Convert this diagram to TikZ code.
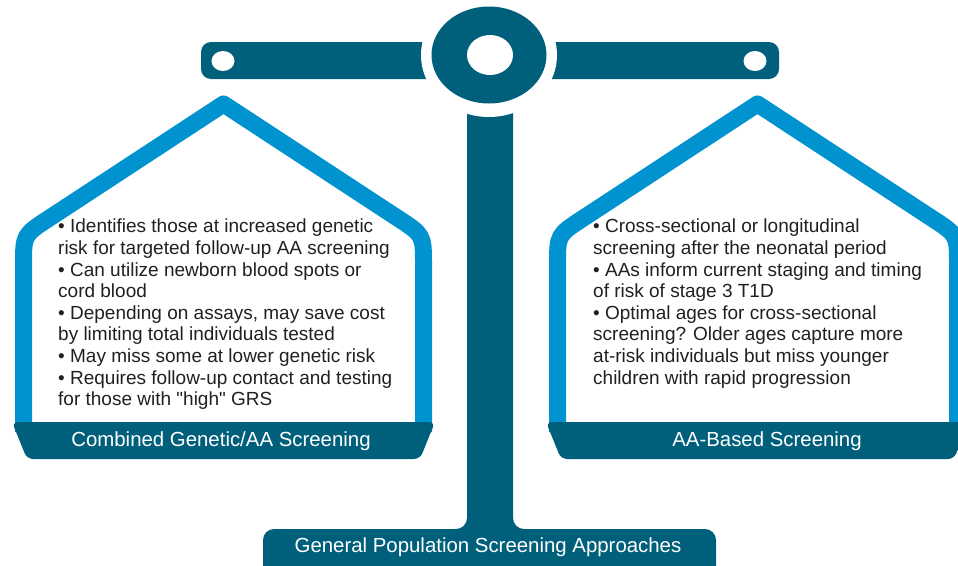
\documentclass[tikz,border=0pt]{standalone}
\usepackage{fontspec}
\setmainfont{Liberation Sans}
\definecolor{beamteal}{RGB}{0,95,122}
\definecolor{panblue}{RGB}{0,147,208}
\definecolor{inkdark}{RGB}{35,31,32}
\begin{document}
\begin{tikzpicture}[x=1pt,y=-1pt,
  bodytext/.style={anchor=north west, align=left, inner sep=0pt,
    font=\fontsize{19}{21.6}\selectfont, text=inkdark},
  basetext/.style={text=white, inner sep=0pt,
    font=\fontsize{20.4}{24}\selectfont},
  panrim/.style={draw=panblue, line width=17pt, line join=round},
  panbase/.style={fill=beamteal, rounded corners=6}]
\useasboundingbox (0,0) rectangle (958,565);

% stand: upright post on its foot bar
\fill[beamteal, rounded corners=11]
  (263,580) -- (263,529) -- (467,529) -- (467,100) -- (513,100)
  -- (513,529) -- (716,529) -- (716,580) -- cycle;

% beam with its two hanging holes
\fill[beamteal, rounded corners=10] (201,42) rectangle (779,79);
\fill[white] (223,61) ellipse [x radius=11.5, y radius=10];
\fill[white] (755,61) ellipse [x radius=11.5, y radius=10];

% pivot ring, set off by a white gap
\fill[white] (489,55) ellipse [x radius=68, y radius=62];
\fill[beamteal] (489,55) ellipse [x radius=57.5, y radius=48.5];
\fill[white] (490,55) ellipse [x radius=23, y radius=20];

% the two pans: house-shaped rim on a dark base
\foreach \dx in {0,534}{
  \begin{scope}[xshift=\dx pt]
    \draw[panrim] (23.5,432) -- (23.5,265) .. controls (23.5,235) .. (48.6,218.6)
      -- (223.5,104) -- (398.4,218.6) .. controls (423.5,235) .. (423.5,265)
      -- (423.5,432);
    \fill[panbase] (12,422) -- (27,459) -- (420,459) -- (435,422) -- cycle;
  \end{scope}
}

\node[bodytext] (gentext) at (58,219) {%
• Identifies those at increased genetic\\
risk for targeted follow-up AA screening\\
• Can utilize newborn blood spots or\\
cord blood\\
• Depending on assays, may save cost\\
by limiting total individuals tested\\
• May miss some at lower genetic risk\\
• Requires follow-up contact and testing\\
for those with \textquotedbl high\textquotedbl\ GRS};

\node[bodytext] (aatext) at (593,219) {%
• Cross-sectional or longitudinal\\
screening after the neonatal period\\
• AAs inform current staging and timing\\
of risk of stage 3 T1D\\
• Optimal ages for cross-sectional\\
screening? Older ages capture more\\
at-risk individuals but miss younger\\
children with rapid progression};

\node[basetext] (genlabel) at (221,441) {Combined Genetic/AA Screening};
\node[basetext] (aalabel) at (767,441) {AA-Based Screening};
\node[basetext] (rootlabel) at (488,547) {General Population Screening Approaches};
\end{tikzpicture}
\end{document}
